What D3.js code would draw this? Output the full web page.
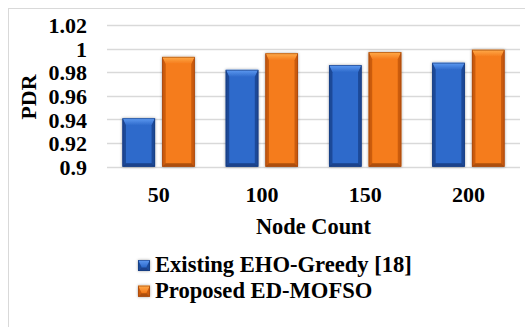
<!DOCTYPE html>
<html>
<head>
<meta charset="utf-8">
<script src="https://cdn.jsdelivr.net/npm/d3@7"></script>
<style>
  html, body { margin: 0; padding: 0; background: #fff; }
  svg { display: block; }
  text { font-family: "Liberation Serif", "Times New Roman", serif; font-weight: bold; fill: #000; }
</style>
</head>
<body>
<svg id="chart" width="525" height="327"></svg>
<script>
// Packet delivery ratio by network size
const categories = ["50", "100", "150", "200"];
const seriesNames = ["Existing EHO-Greedy [18]", "Proposed ED-MOFSO"];
const existingValues = [0.941, 0.982, 0.986, 0.988];
const proposedValues = [0.993, 0.996, 0.997, 0.999];
const yTicks = [0.9, 0.92, 0.94, 0.96, 0.98, 1, 1.02];
const yTickLabels = ["0.9", "0.92", "0.94", "0.96", "0.98", "1", "1.02"];

const seriesValues = [existingValues, proposedValues];
const palette = [
  { main: "#2e6acb", light: "#5f9bf2", dark: "#1c4592", edge: "#173a7c" },
  { main: "#f57b1c", light: "#ffab4a", dark: "#c4570c", edge: "#9c4508" }
];

const svg = d3.select("#chart");
const plot = { left: 107, right: 520, top: 25, bottom: 166.7 };

// chart area frame
svg.append("rect")
  .attr("x", 8.5).attr("y", 8.5)
  .attr("width", 530).attr("height", 330)
  .attr("fill", "none").attr("stroke", "#d9d9d9").attr("stroke-width", 1);

const x0 = d3.scaleBand().domain(categories).range([plot.left, plot.right]).paddingInner(0.3).paddingOuter(0.15);
const x1 = d3.scaleBand().domain([0, 1]).range([0, x0.bandwidth()]).paddingInner(0.18);
const y = d3.scaleLinear().domain([0.9, 1.02]).range([plot.bottom, plot.top]);

// gradients
const defs = svg.append("defs");
palette.forEach((c, i) => {
  const g = defs.append("linearGradient").attr("id", "body" + i).attr("x1", 0).attr("x2", 1).attr("y1", 0).attr("y2", 0);
  g.append("stop").attr("offset", "0%").attr("stop-color", c.dark);
  g.append("stop").attr("offset", "10%").attr("stop-color", c.main);
  g.append("stop").attr("offset", "90%").attr("stop-color", c.main);
  g.append("stop").attr("offset", "100%").attr("stop-color", c.dark);
  const t = defs.append("linearGradient").attr("id", "top" + i).attr("x1", 0).attr("x2", 0).attr("y1", 0).attr("y2", 1);
  t.append("stop").attr("offset", "0%").attr("stop-color", c.light);
  t.append("stop").attr("offset", "100%").attr("stop-color", c.main);
});
const shadow = defs.append("filter").attr("id", "shadow").attr("x", "-30%").attr("y", "-30%").attr("width", "160%").attr("height", "160%");
shadow.append("feGaussianBlur").attr("in", "SourceAlpha").attr("stdDeviation", 1.5).attr("result", "b");
shadow.append("feOffset").attr("in", "b").attr("dx", 0).attr("dy", 0).attr("result", "o");
shadow.append("feComponentTransfer").attr("in", "o").attr("result", "s")
  .append("feFuncA").attr("type", "linear").attr("slope", 0.35);
const merge = shadow.append("feMerge");
merge.append("feMergeNode").attr("in", "s");
merge.append("feMergeNode").attr("in", "SourceGraphic");

// gridlines
svg.append("g").selectAll("line").data(yTicks).join("line")
  .attr("x1", plot.left).attr("x2", plot.right)
  .attr("y1", d => Math.round(y(d)) + 0.5).attr("y2", d => Math.round(y(d)) + 0.5)
  .attr("stroke", "#d9d9d9").attr("stroke-width", 1.3);

// y axis labels
const yAxis = d3.axisLeft(y).tickValues(yTicks).tickFormat((d, i) => yTickLabels[i]).tickSize(0).tickPadding(0);
const yg = svg.append("g").attr("transform", `translate(87,0)`).call(yAxis);
yg.select(".domain").remove();
yg.selectAll("text").style("font-size", "22px").style("font-family", null).attr("fill", "#000").attr("dy", "0.35em");

// bevelled 3D-style bar
function drawBar(g, bx, by, bw, bh, s) {
  const c = palette[s];
  const b = Math.min(3.5, bh / 3);
  const grp = g.append("g").attr("filter", "url(#shadow)");
  grp.append("rect").attr("x", bx).attr("y", by).attr("width", bw).attr("height", bh)
    .attr("fill", `url(#body${s})`);
  // top bevel
  grp.append("polygon")
    .attr("points", [[bx, by], [bx + bw, by], [bx + bw - b, by + b * 2], [bx + b, by + b * 2]].map(p => p.join(",")).join(" "))
    .attr("fill", `url(#top${s})`);
  // side bevels
  grp.append("polygon")
    .attr("points", [[bx, by], [bx + b, by + b * 2], [bx + b, by + bh - b], [bx, by + bh]].map(p => p.join(",")).join(" "))
    .attr("fill", c.dark).attr("opacity", 0.85);
  grp.append("polygon")
    .attr("points", [[bx + bw, by], [bx + bw - b, by + b * 2], [bx + bw - b, by + bh - b], [bx + bw, by + bh]].map(p => p.join(",")).join(" "))
    .attr("fill", c.dark).attr("opacity", 0.85);
  // bottom bevel
  grp.append("polygon")
    .attr("points", [[bx, by + bh], [bx + b, by + bh - b], [bx + bw - b, by + bh - b], [bx + bw, by + bh]].map(p => p.join(",")).join(" "))
    .attr("fill", c.edge).attr("opacity", 0.8);
  grp.append("rect").attr("x", bx + 0.4).attr("y", by + 0.4).attr("width", bw - 0.8).attr("height", bh - 0.8)
    .attr("fill", "none").attr("stroke", c.edge).attr("stroke-width", 0.8).attr("opacity", 0.7);
}

const barsG = svg.append("g");
categories.forEach((cat, ci) => {
  seriesValues.forEach((vals, si) => {
    const bx = x0(cat) + x1(si);
    const by = y(vals[ci]);
    drawBar(barsG, bx, by, x1.bandwidth(), y(0.9) - by, si);
  });
});

// x axis labels
const xAxis = d3.axisBottom(x0).tickSize(0).tickPadding(0);
const xg = svg.append("g").attr("transform", `translate(0,186)`).call(xAxis);
xg.select(".domain").remove();
xg.selectAll("text").style("font-size", "22px").style("font-family", null).attr("fill", "#000").attr("dy", "0.71em");

// axis titles
svg.append("text").attr("x", (plot.left + plot.right) / 2).attr("y", 234)
  .attr("text-anchor", "middle").style("font-size", "22.4px").text("Node Count");
svg.append("text").attr("transform", "translate(36,97) rotate(-90)")
  .attr("text-anchor", "middle").style("font-size", "22px").text("PDR");

// legend
const legend = svg.append("g");
seriesNames.forEach((name, i) => {
  const ly = 265 + i * 25.7;
  drawBar(legend, 138, ly - 5, 12, 11, i);
  legend.append("text").attr("x", 155).attr("y", ly + 7)
    .style("font-size", "22.6px").text(name);
});
</script>
</body>
</html>
